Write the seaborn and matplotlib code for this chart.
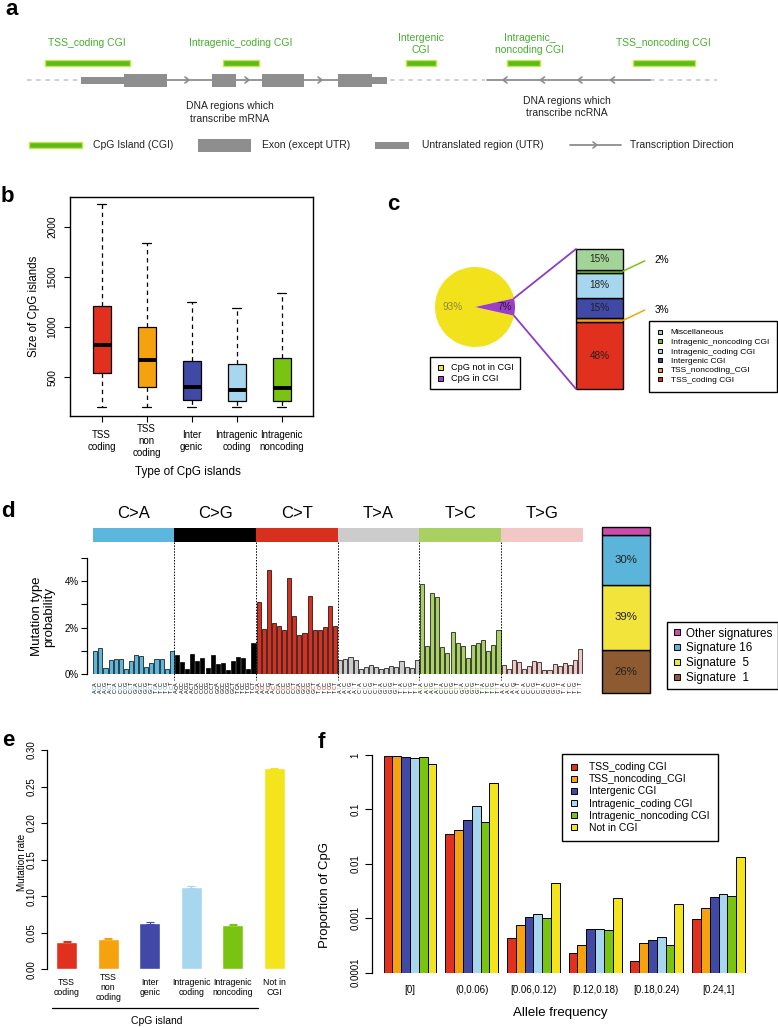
import numpy as np
import pandas as pd
import matplotlib
matplotlib.use("Agg")
import matplotlib.pyplot as plt
from matplotlib.patches import Rectangle, ConnectionPatch
from matplotlib.lines import Line2D
import seaborn as sns

# ---------------- data ----------------
# panel b: CGI size distributions (box statistics)
b_labels = ["TSS\ncoding", "TSS\nnon\ncoding", "Inter\ngenic", "Intragenic\ncoding", "Intragenic\nnoncoding"]
b_whislo = [200, 200, 200, 200, 200]
b_q1 = [546, 406, 277, 261, 267]
b_median = [822, 672, 403, 373, 396]
b_q3 = [1213, 1004, 662, 632, 695]
b_whishi = [2223, 1834, 1247, 1193, 1343]
b_yticks = [500, 1000, 1500, 2000]
cgi_colors = ["#E2301F", "#F6A10E", "#4049A6", "#A7D7EE", "#79C410"]

# panel c
pie_labels = ["CpG not in CGI", "CpG in CGI"]
pie_values = [93, 7]
pie_colors = ["#F2E21B", "#9A3FC6"]
comp_labels = ["TSS_coding CGI", "TSS_noncoding_CGI", "Intergenic CGI",
               "Intragenic_coding CGI", "Intragenic_noncoding CGI", "Miscellaneous"]
comp_values = [48, 3, 15, 18, 2, 15]
comp_colors = ["#E2301F", "#F6A10E", "#4049A6", "#A7D7EE", "#79C410", "#A3D497"]

# panel d: 96-channel mutation spectrum (%)
mut_types = ["C>A", "C>G", "C>T", "T>A", "T>C", "T>G"]
mut_colors = ["#5DB7DD", "#000000", "#D8301F", "#CCCCCC", "#A8D062", "#F2C8C7"]
first_base = list("AAAACCCCGGGGTTTT")
third_base = list("ACGTACGTACGTACGT")
prob_CA = [1.00, 1.12, 0.28, 0.60, 0.67, 0.66, 0.24, 0.55, 0.83, 0.77, 0.32, 0.50, 0.67, 0.67, 0.21, 1.01]
prob_CG = [0.84, 0.52, 0.22, 0.86, 0.58, 0.69, 0.26, 0.83, 0.45, 0.48, 0.18, 0.58, 0.74, 0.70, 0.22, 1.36]
prob_CT = [3.12, 1.95, 4.48, 2.21, 2.08, 1.90, 4.12, 2.48, 1.67, 1.76, 3.35, 1.88, 1.92, 2.01, 2.95, 2.07]
prob_TA = [0.61, 0.66, 0.74, 0.61, 0.21, 0.31, 0.39, 0.31, 0.21, 0.29, 0.34, 0.33, 0.59, 0.30, 0.29, 0.60]
prob_TC = [3.86, 1.21, 3.49, 3.33, 1.15, 0.90, 1.80, 1.35, 1.20, 0.68, 1.26, 1.34, 1.49, 1.00, 1.24, 1.88]
prob_TG = [0.42, 0.24, 0.61, 0.53, 0.24, 0.36, 0.56, 0.53, 0.20, 0.17, 0.46, 0.35, 0.49, 0.40, 0.63, 1.10]
sig_labels = ["Signature  1", "Signature  5", "Signature 16", "Other signatures"]
sig_values = [26, 39, 30, 5]
sig_colors = ["#8E5A32", "#F3E43C", "#5BB5DB", "#C94DAA"]

# panel e
e_labels = ["TSS\ncoding", "TSS\nnon\ncoding", "Inter\ngenic", "Intragenic\ncoding", "Intragenic\nnoncoding", "Not in\nCGI"]
e_rates = [0.0374, 0.0419, 0.0634, 0.1126, 0.0611, 0.2749]
e_err = [0.0007, 0.0008, 0.0008, 0.0009, 0.0008, 0.0005]
e_colors = ["#E2301F", "#F6A10E", "#4049A6", "#A7D7EE", "#79C410", "#F4E41E"]

# panel f
f_bins = ["[0]", "(0,0.06)", "[0.06,0.12)", "[0.12,0.18)", "[0.18,0.24)", "[0.24,1]"]
f_types = ["TSS_coding CGI", "TSS_noncoding_CGI", "Intergenic CGI",
           "Intragenic_coding CGI", "Intragenic_noncoding CGI", "Not in CGI"]
f_tss_coding = [0.96, 0.0361, 0.000435, 0.000227, 0.000162, 0.00096]
f_tss_noncoding = [0.955, 0.041, 0.000743, 0.000318, 0.000352, 0.00157]
f_intergenic = [0.93, 0.0628, 0.00107, 0.000628, 0.000399, 0.00247]
f_intra_coding = [0.88, 0.115, 0.0012, 0.000646, 0.000447, 0.00277]
f_intra_noncoding = [0.935, 0.0593, 0.00101, 0.00061, 0.000328, 0.00258]
f_not_cgi = [0.68, 0.301, 0.0044, 0.00237, 0.00181, 0.0133]
f_colors = ["#E2301F", "#F6A10E", "#4049A6", "#A7D7EE", "#79C410", "#F4E41E"]
f_yticks = [0.0001, 0.001, 0.01, 0.1, 1]
f_yticklabels = ["0.0001", "0.001", "0.01", "0.1", "1"]

# ---------------- figure ----------------
sns.set_theme(style="ticks")
plt.rcParams["font.family"] = ["Liberation Sans", "DejaVu Sans"]
plt.rcParams["axes.linewidth"] = 0.9
plt.rcParams["axes.edgecolor"] = "black"
plt.rcParams["xtick.color"] = "black"
plt.rcParams["ytick.color"] = "black"
plt.rcParams["text.color"] = "black"
plt.rcParams["axes.labelcolor"] = "black"

W, H = 778, 1027
fig = plt.figure(figsize=(W / 100, H / 100), dpi=100)
fig.patch.set_facecolor("white")


def rect(b):
    x0, y0, x1, y1 = b
    return [x0 / W, 1 - y1 / H, (x1 - x0) / W, (y1 - y0) / H]


def axfrac(b, px, py):
    x0, y0, x1, y1 = b
    return ((px - x0) / (x1 - x0), (y1 - py) / (y1 - y0))


def sq_legend(ax, colors, labels, x, y, fs, ms, bp, ls, hl, htp):
    handles = [Line2D([], [], marker="s", ls="none", markerfacecolor=c, markeredgecolor="black",
                      markersize=ms, markeredgewidth=0.7) for c in colors]
    leg = ax.legend(handles, labels, loc="upper left", bbox_to_anchor=(x / W, 1 - y / H),
                    bbox_transform=fig.transFigure, fontsize=fs, frameon=True, fancybox=False,
                    edgecolor="black", framealpha=1, borderpad=bp, labelspacing=ls,
                    handlelength=hl, handletextpad=htp, borderaxespad=0)
    leg.get_frame().set_linewidth(1.0)
    return leg


def panel_label(x, y, s):
    fig.text(x / W, 1 - y / H, s, fontsize=16, fontweight="bold", va="baseline", ha="left")


# ---------------- panel b ----------------
B = (70, 197, 313, 416)
axb = fig.add_axes(rect(B))
stats = [dict(whislo=lo, q1=q1, med=md, q3=q3, whishi=hi)
         for lo, q1, md, q3, hi in zip(b_whislo, b_q1, b_median, b_q3, b_whishi)]
bp = axb.bxp(stats, positions=np.arange(1, 6), widths=0.4, capwidths=0.2, showfliers=False,
             patch_artist=True,
             boxprops=dict(edgecolor="black", linewidth=0.9),
             whiskerprops=dict(color="black", linewidth=0.9, linestyle=(0, (3.5, 3))),
             capprops=dict(color="black", linewidth=0.9),
             medianprops=dict(color="black", linewidth=2.8, solid_capstyle="butt"))
for patch, c in zip(bp["boxes"], cgi_colors):
    patch.set_facecolor(c)
axb.set_xlim(0.3, 5.7)
axb.set_ylim(115, 2296)
axb.set_yticks(b_yticks)
axb.set_yticklabels([str(v) for v in b_yticks], rotation=90, va="center", fontsize=7.3)
axb.set_xticks(np.arange(1, 6))
axb.set_xticklabels([])
axb.tick_params(axis="both", length=4, width=0.8, direction="out")
axb.tick_params(axis="y", pad=5)
for s in axb.spines.values():
    s.set_linewidth(1.0)
ty = axfrac(B, 0, 441)[1]
for i, lab in enumerate(b_labels):
    axb.text(i + 1, ty, lab, transform=axb.get_xaxis_transform(), ha="center", va="center",
             fontsize=7.0, linespacing=1.25)
axb.set_ylabel("Size of CpG islands", fontsize=8.3, va="center")
axb.yaxis.set_label_coords(*axfrac(B, 34, 306))
axb.set_xlabel("Type of CpG islands", fontsize=8.5, va="center")
axb.xaxis.set_label_coords(*axfrac(B, 187.5, 472))

# ---------------- panel c ----------------
P = (435, 267, 515, 347)
axp = fig.add_axes(rect(P))
axp.pie(pie_values, colors=pie_colors, startangle=12.6, counterclock=True, radius=1,
        wedgeprops=dict(linewidth=0))
axp.set_xlim(-1, 1)
axp.set_ylim(-1, 1)
axp.set_aspect("equal")
axp.text(-0.55, 0, f"{pie_values[0]}%", color="#8C8A30", fontsize=7.2, ha="center", va="center")
axp.text(0.75, 0, f"{pie_values[1]}%", color="#2A1A3A", fontsize=7.2, ha="center", va="center")
sq_legend(axp, pie_colors, pie_labels, 430, 357, 6.6, 3.6, 0.69, 0.17, 0.8, 0.8)

S = (576, 249, 623, 389)
axs = fig.add_axes(rect(S))
cum = np.cumsum(comp_values)
bottoms = cum - np.array(comp_values)
axs.bar([0] * len(comp_values), comp_values, bottom=bottoms, width=1, color=comp_colors,
        edgecolor="black", linewidth=1, clip_on=False)
axs.set_xlim(-0.5, 0.5)
axs.set_ylim(0, cum[-1])
axs.axis("off")
for v, b0, c in zip(comp_values, bottoms, comp_colors):
    if v >= 10:
        axs.text(0, b0 + v / 2, f"{v}%", ha="center", va="center", fontsize=7.2, color="#222222")
for idx, dy in [(1, 10.3), (4, 10.3)]:
    cy = bottoms[idx] + comp_values[idx] / 2
    axs.annotate("", xy=(0.5, cy), xycoords="data", xytext=(21.7, dy), textcoords="offset pixels",
                 arrowprops=dict(arrowstyle="-", color=comp_colors[idx], lw=1.1, shrinkA=0, shrinkB=0))
    axs.annotate(f"{comp_values[idx]}%", xy=(0.5, cy), xycoords="data", xytext=(31.7, dy + 0.5),
                 textcoords="offset pixels", ha="left", va="center", fontsize=7.2)
ang = np.deg2rad(pie_values[1] * 3.6 / 2)
for sgn, yb in [(1, cum[-1]), (-1, 0)]:
    con = ConnectionPatch(xyA=(np.cos(ang), sgn * np.sin(ang)), coordsA=axp.transData,
                          xyB=(-0.5, yb), coordsB=axs.transData, color="#8E3CC0", lw=1.3)
    fig.add_artist(con)
sq_legend(axs, comp_colors[::-1], comp_labels[::-1], 649, 321, 6.0, 3.0, 0.92, 0.2, 0.8, 0.88)

# ---------------- panel d ----------------
D = (92.7, 557.7, 582.7, 674.3)
axd = fig.add_axes(rect(D))
probs = prob_CA + prob_CG + prob_CT + prob_TA + prob_TC + prob_TG
df_d = pd.DataFrame({"pos": np.arange(len(probs)), "prob": probs,
                     "type": np.repeat(mut_types, 16)})
sns.barplot(data=df_d, x="pos", y="prob", hue="type", hue_order=mut_types,
            palette=dict(zip(mut_types, mut_colors)), dodge=False, width=0.8,
            edgecolor="black", linewidth=0.5, errorbar=None, legend=False, saturation=1, ax=axd)
axd.set_xlim(-0.5, 95.5)
axd.set_ylim(0, 5)
for s in ["top", "right", "bottom"]:
    axd.spines[s].set_visible(False)
axd.spines["left"].set_position(("outward", 3.9))
axd.spines["left"].set_bounds(0, 5)
axd.set_yticks([0, 1, 2, 3, 4, 5])
axd.set_yticklabels(["0%", "", "2%", "", "4%", ""], fontsize=7)
axd.set_xticks([])
axd.tick_params(axis="y", length=4, width=0.8, pad=2)
axd.set_xlabel("")
axd.set_ylabel("Mutation type\nprobability", fontsize=9.5, va="center", linespacing=1.05)
axd.yaxis.set_label_coords(*axfrac(D, 43, 616.7))
bt = axd.get_xaxis_transform()
hy0 = axfrac(D, 0, 542)[1]
hy1 = axfrac(D, 0, 528)[1]
ty = axfrac(D, 0, 513)[1]
for k, (m, c) in enumerate(zip(mut_types, mut_colors)):
    axd.add_patch(Rectangle((16 * k - 0.5, hy0), 16, hy1 - hy0, transform=bt, color=c,
                            clip_on=False, lw=0))
    axd.text(16 * k + 7.5, ty, m, transform=bt, ha="center", va="center", fontsize=12)
    if k > 0:
        axd.plot([16 * k - 0.5, 16 * k - 0.5], [hy0, -0.05], transform=bt, color="black",
                 lw=0.7, ls=(0, (1.5, 1.5)), clip_on=False)
rows = [axfrac(D, 0, y)[1] for y in (691.3, 687.5, 683.7)]
for i in range(96):
    k, j = divmod(i, 16)
    mid = "C" if k < 3 else "T"
    for ch, yy, col in [(first_base[j], rows[0], "black"), (mid, rows[1], mut_colors[k]),
                        (third_base[j], rows[2], "black")]:
        axd.text(i, yy, ch, transform=bt, rotation=90, ha="center", va="center",
                 fontsize=4, color=col)

G = (602.3, 526.7, 650.3, 693.3)
axg = fig.add_axes(rect(G))
gcum = np.cumsum(sig_values)
gbot = gcum - np.array(sig_values)
axg.bar([0] * len(sig_values), sig_values, bottom=gbot, width=1, color=sig_colors,
        edgecolor="black", linewidth=1, clip_on=False)
axg.set_xlim(-0.5, 0.5)
axg.set_ylim(0, gcum[-1])
axg.axis("off")
for v, b0 in zip(sig_values, gbot):
    if v >= 10:
        axg.text(0, b0 + v / 2, f"{v}%", ha="center", va="center", fontsize=8.2, color="#222222")
sq_legend(axg, sig_colors[::-1], sig_labels[::-1], 666.7, 621.7, 8.4, 4.3, 0.5, 0.23, 0.7, 0.45)

# ---------------- panel e ----------------
E = (46.7, 750, 299, 969.3)
axe = fig.add_axes(rect(E))
df_e = pd.DataFrame({"cat": e_labels, "rate": e_rates})
sns.barplot(data=df_e, x="cat", y="rate", hue="cat", palette=e_colors, width=0.5,
            errorbar=None, legend=False, saturation=1, ax=axe)
for i, (r, er, c) in enumerate(zip(e_rates, e_err, e_colors)):
    axe.errorbar(i, r, yerr=er, fmt="none", ecolor=c, elinewidth=0.8, capsize=3, capthick=0.8)
axe.set_xlim(-0.482, 5.598)
axe.set_ylim(0, 0.30)
for s in ["top", "right", "bottom"]:
    axe.spines[s].set_visible(False)
axe.spines["left"].set_bounds(0, 0.30)
etk = [0.0, 0.05, 0.10, 0.15, 0.20, 0.25, 0.30]
axe.set_yticks(etk)
axe.set_yticklabels([f"{v:.2f}" for v in etk], rotation=90, va="center", fontsize=7)
axe.tick_params(axis="y", length=4, width=0.8, pad=3)
axe.set_xticks([])
axe.set_xlabel("")
axe.set_ylabel("Mutation rate", fontsize=7.1, va="center")
axe.yaxis.set_label_coords(*axfrac(E, 21.7, 862))
et = axe.get_xaxis_transform()
ey = axfrac(E, 0, 987.5)[1]
for i, lab in enumerate(e_labels):
    axe.text(i, ey, lab, transform=et, ha="center", va="center", fontsize=6.3, linespacing=1.2)
uy = axfrac(E, 0, 1008.3)[1]
axe.plot([(51.7 - 66.7) / 41.5, (257.7 - 66.7) / 41.5], [uy, uy], transform=et, color="black",
         lw=0.9, clip_on=False)
axe.text((156.7 - 66.7) / 41.5, axfrac(E, 0, 1021.5)[1], "CpG island", transform=et,
         ha="center", va="center", fontsize=7.5)

# ---------------- panel f ----------------
F = (371.7, 755, 750, 972.7)
axf = fig.add_axes(rect(F))
series = [f_tss_coding, f_tss_noncoding, f_intergenic, f_intra_coding, f_intra_noncoding, f_not_cgi]
rows_f = [(b, t, v) for t, vals in zip(f_types, series) for b, v in zip(f_bins, vals)]
df_f = pd.DataFrame(rows_f, columns=["bin", "type", "prop"])
sns.barplot(data=df_f, x="bin", y="prop", hue="type", order=f_bins, hue_order=f_types,
            palette=f_colors, width=6 / 7, gap=0, dodge=True, edgecolor="black", linewidth=0.7,
            errorbar=None, legend=False, saturation=1, log_scale=True, ax=axf)
axf.set_yscale("log")
axf.set_ylim(1e-4, 1)
axf.set_xlim(-0.621, 5.51)
for s in ["top", "right", "bottom"]:
    axf.spines[s].set_visible(False)
axf.spines["left"].set_bounds(1e-4, 1)
axf.yaxis.set_major_locator(matplotlib.ticker.FixedLocator(f_yticks))
axf.yaxis.set_minor_locator(matplotlib.ticker.NullLocator())
axf.yaxis.set_major_formatter(matplotlib.ticker.FixedFormatter(f_yticklabels))
for lab in axf.get_yticklabels():
    lab.set_rotation(90)
    lab.set_va("center")
    lab.set_fontsize(7)
axf.tick_params(axis="y", length=5, width=0.8, pad=3)
axf.set_xticks([])
axf.set_xlabel("Allele frequency", fontsize=9.5, va="center")
axf.xaxis.set_label_coords(*axfrac(F, 560, 1013.3))
axf.set_ylabel("Proportion of CpG", fontsize=9.5, va="center")
axf.yaxis.set_label_coords(*axfrac(F, 325, 895))
ft = axf.get_xaxis_transform()
fyl = axfrac(F, 0, 990)[1]
for i, lab in enumerate(f_bins):
    axf.text(i, fyl, lab, transform=ft, ha="center", va="center", fontsize=7)
sq_legend(axf, f_colors, f_types, 561.7, 754, 7.5, 3.8, 0.8, 0.2, 0.8, 1.0)

# ---------------- panel a (schematic, pixel coordinates) ----------------
ov = fig.add_axes([0, 0, 1, 1])
ov.set_xlim(0, W)
ov.set_ylim(H, 0)
ov.axis("off")
GRAY = "#8E8E8E"
GREEN_T = "#46AE2E"
cgi_names = ["TSS_coding CGI", "Intragenic_coding CGI", "Intergenic\nCGI",
             "Intragenic_\nnoncoding CGI", "TSS_noncoding CGI"]
cgi_name_xy = [(87, 42.7), (241, 42.7), (421, 43.7), (530, 43.7), (663.5, 42.7)]
cgi_spans = [(45, 130), (223.5, 259), (406.5, 436.5), (507, 540), (633.5, 695)]
for name, (x, y) in zip(cgi_names, cgi_name_xy):
    ov.text(x, y, name, color=GREEN_T, fontsize=7.5, ha="center", va="center", linespacing=1.25)
for x0, x1 in cgi_spans:
    ov.add_patch(Rectangle((x0, 59.7), x1 - x0, 6, facecolor="#5CBB1C", edgecolor="#C8E64C", lw=1))
for x0, x1 in [(27.5, 81), (390, 485), (650, 717.5)]:
    ov.plot([x0, x1], [80, 80], color="#C4C4C4", lw=1.1, ls=(0, (3, 3)))
ov.plot([167.5, 338.5], [80, 80], color=GRAY, lw=1.3)
ov.plot([487.5, 650], [80, 80], color=GRAY, lw=1.3)
for x0, x1 in [(81, 124), (372.5, 387.5)]:
    ov.add_patch(Rectangle((x0, 76.5), x1 - x0, 7, facecolor=GRAY, lw=0))
for x0, x1 in [(124, 167.5), (212.5, 236), (262, 304), (338.5, 372.5)]:
    ov.add_patch(Rectangle((x0, 73.5), x1 - x0, 13, facecolor=GRAY, lw=0))


def chevron(x, y, d):
    ov.plot([x - 4 * d, x, x - 4 * d], [y - 3, y, y + 3], color=GRAY, lw=1.2)


for x in [189, 249, 322]:
    chevron(x, 80, 1)
for x in [503, 540.5, 578, 610.5]:
    chevron(x, 80, -1)
ov.text(229.5, 112.5, "DNA regions which\ntranscribe mRNA", fontsize=7.5, ha="center",
        va="center", linespacing=1.3, color="#222222")
ov.text(566.5, 107, "DNA regions which\ntranscribe ncRNA", fontsize=7.5, ha="center",
        va="center", linespacing=1.3, color="#222222")
ov.add_patch(Rectangle((29, 142), 53.5, 6, facecolor="#5CBB1C", edgecolor="#C8E64C", lw=1))
ov.text(93.5, 145, "CpG Island (CGI)", fontsize=7.5, ha="left", va="center", color="#222222")
ov.add_patch(Rectangle((198.5, 138.5), 52.5, 13.5, facecolor=GRAY, lw=0))
ov.text(262.5, 145, "Exon (except UTR)", fontsize=7.5, ha="left", va="center", color="#222222")
ov.add_patch(Rectangle((375, 141.5), 34, 7, facecolor=GRAY, lw=0))
ov.text(422.5, 145, "Untranslated region (UTR)", fontsize=7.5, ha="left", va="center",
        color="#222222")
ov.plot([570, 621], [145, 145], color=GRAY, lw=1.3)
chevron(597, 145, 1)
ov.text(630, 145, "Transcription Direction", fontsize=7.5, ha="left", va="center", color="#222222")

# panel letters
panel_label(5, 15, "a")
panel_label(1, 201.7, "b")
panel_label(387, 210, "c")
panel_label(1, 516.7, "d")
panel_label(2, 746.5, "e")
panel_label(318, 748, "f")

fig.savefig("out.png", dpi=100, facecolor="white")
